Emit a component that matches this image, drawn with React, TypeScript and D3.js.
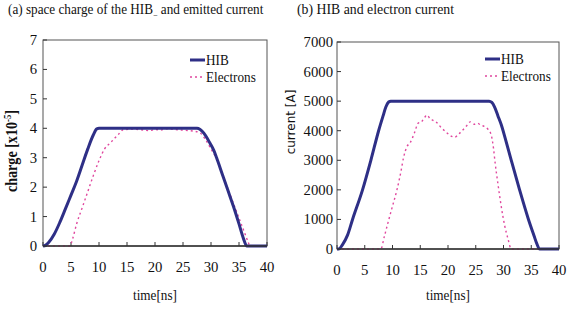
import * as d3 from "d3";

// panel (a): space charge [x10^-5]
const hibChargeT = [0, 0.5, 1, 2, 3, 4, 5, 6, 7, 8, 9, 9.6, 10, 27.5, 28, 28.5, 29, 29.8, 30.5, 31, 32, 33, 34, 35, 35.8, 36.4, 40];
const hibChargeV = [0, 0.03, 0.12, 0.4, 0.8, 1.26, 1.73, 2.2, 2.75, 3.3, 3.78, 3.98, 4.0, 4.0, 3.97, 3.88, 3.76, 3.5, 3.25, 3.0, 2.45, 1.9, 1.35, 0.75, 0.25, 0, 0];
const eChargeT = [0, 4.8, 5.3, 6, 7, 8, 9, 10, 11, 12, 12.5, 13.5, 14.3, 16, 17.5, 19, 20, 21, 22, 24, 26, 27, 28, 29, 30, 31, 32, 33, 34, 35, 36, 36.6, 37, 40];
const eChargeV = [0, 0, 0.25, 0.75, 1.3, 1.85, 2.4, 2.9, 3.3, 3.5, 3.6, 3.8, 3.95, 3.97, 3.95, 3.92, 3.96, 3.94, 3.98, 3.95, 3.92, 3.9, 3.85, 3.62, 3.3, 2.95, 2.45, 1.95, 1.45, 0.95, 0.45, 0.15, 0, 0];

// panel (b): current [A]
const hibCurT = [0, 0.3, 1, 1.9, 2.8, 4.6, 6.1, 7.5, 8.3, 8.8, 9.3, 9.7, 27.4, 27.9, 28.4, 29, 29.6, 30.3, 31.4, 32.9, 34.5, 35.5, 36, 36.5, 40];
const hibCurV = [0, 0, 150, 470, 1000, 2000, 3000, 4000, 4500, 4800, 4970, 5000, 5000, 4960, 4800, 4500, 4200, 3750, 3000, 2000, 1000, 450, 180, 0, 0];
const eCurT = [0, 7.9, 8.5, 9.2, 10, 10.8, 11.5, 12, 12.6, 13.2, 14, 14.6, 15.2, 15.8, 16.2, 16.8, 17.3, 18, 18.8, 19.5, 20.3, 21.2, 22, 22.8, 23.5, 24, 24.7, 25.3, 26, 26.5, 27.2, 27.8, 28.2, 28.5, 29, 29.6, 30.2, 30.8, 31.4, 40];
const eCurV = [0, 0, 400, 900, 1450, 2000, 2600, 3100, 3460, 3600, 3950, 4250, 4300, 4450, 4530, 4400, 4350, 4270, 4100, 3980, 3850, 3780, 3900, 4050, 4200, 4300, 4220, 4250, 4180, 4150, 4050, 3850, 3400, 2900, 2200, 1430, 800, 350, 0, 0];

const xTicks = [0, 5, 10, 15, 20, 25, 30, 35, 40];
const chargeTicks = [0, 1, 2, 3, 4, 5, 6, 7];
const currentTicks = [0, 1000, 2000, 3000, 4000, 5000, 6000, 7000];
const seriesNames = ["HIB", "Electrons"];

const HIB_COLOR = "#2e2f86";
const E_COLOR = "#e0479e";
const FONT = "Liberation Serif, Times New Roman, serif";

type Pt = [number, number];
const zip = (a: number[], b: number[]): Pt[] => a.map((t, i) => [t, b[i]]);

function T(props: { x: number; y: number; size?: number; sx?: number; anchor?: string; weight?: string; rotate?: number; children: any; family?: string }) {
  const { x, y, size = 15, sx = 0.88, anchor = "start", weight = "normal", rotate = 0, family = FONT } = props;
  return (
    <text
      transform={`translate(${x},${y}) rotate(${rotate}) scale(${sx},1)`}
      fontFamily={family}
      fontSize={size}
      fontWeight={weight}
      textAnchor={anchor}
      fill="#111"
    >
      {props.children}
    </text>
  );
}

function Panel(props: {
  left: number; right: number; top: number; bottom: number;
  yMax: number; yTicks: number[]; hib: Pt[]; el: Pt[];
  tickLabelRight: number; legendX: number; legendY: number;
}) {
  const { left, right, top, bottom, yMax, yTicks, hib, el, tickLabelRight, legendX, legendY } = props;
  const x = d3.scaleLinear().domain([0, 40]).range([left, right]);
  const y = d3.scaleLinear().domain([0, yMax]).range([bottom, top]);
  const line = d3.line<Pt>().x((d) => x(d[0])).y((d) => y(d[1])).curve(d3.curveMonotoneX);
  return (
    <g>
      <rect x={left} y={top} width={right - left} height={bottom - top} fill="none" stroke="#555" strokeWidth={1} />
      {xTicks.map((t) => (
        <g key={"x" + t}>
          <line x1={x(t)} x2={x(t)} y1={bottom} y2={bottom - 4} stroke="#333" />
          <T x={x(t)} y={bottom + 26} size={15.5} sx={0.95} anchor="middle">{t}</T>
        </g>
      ))}
      {yTicks.map((t) => (
        <g key={"y" + t}>
          <line x1={left} x2={left + 4} y1={y(t)} y2={y(t)} stroke="#333" />
          <T x={tickLabelRight} y={y(t) + 5} size={15.5} sx={0.95} anchor="end">{t}</T>
        </g>
      ))}
      <path d={line(el) || ""} fill="none" stroke={E_COLOR} strokeWidth={1.4} strokeDasharray="2,3" />
      <path d={line(hib) || ""} fill="none" stroke={HIB_COLOR} strokeWidth={3} />
      <line x1={left} x2={right} y1={bottom} y2={bottom} stroke="#333" strokeWidth={1.5} />
      <line x1={legendX} x2={legendX + 15} y1={legendY} y2={legendY} stroke={HIB_COLOR} strokeWidth={3} />
      <T x={legendX + 16} y={legendY + 5}>{seriesNames[0]}</T>
      <line x1={legendX} x2={legendX + 15} y1={legendY + 17} y2={legendY + 17} stroke={E_COLOR} strokeWidth={1.4} strokeDasharray="2,3" />
      <T x={legendX + 16} y={legendY + 22}>{seriesNames[1]}</T>
      <T x={(left + right) / 2} y={300} anchor="middle">time[ns]</T>
    </g>
  );
}

export default function App() {
  return (
    <div style={{ position: "absolute", left: 0, top: 0 }}>
      <svg width={569} height={311} style={{ display: "block", background: "#fff" }}>
        <T x={8} y={14} size={15} sx={0.88}>
          (a) space charge of the HIB<tspan fontSize={9} dy={4}>−</tspan>
          <tspan dy={-4}> and emitted current</tspan>
        </T>
        <T x={297} y={14} size={15} sx={0.92}>(b) HIB and electron current</T>

        <Panel left={43} right={267} top={40} bottom={246} yMax={7} yTicks={chargeTicks}
          hib={zip(hibChargeT, hibChargeV)} el={zip(eChargeT, eChargeV)}
          tickLabelRight={37} legendX={190} legendY={60} />
        <Panel left={337} right={559} top={42} bottom={249} yMax={7000} yTicks={currentTicks}
          hib={zip(hibCurT, hibCurV)} el={zip(eCurT, eCurV)}
          tickLabelRight={333} legendX={485} legendY={59} />

        <T x={17} y={151} size={16} anchor="middle" rotate={-90} weight="bold">
          charge [x10<tspan fontSize={10} dy={-6}>-5</tspan><tspan dy={6}>]</tspan>
        </T>
        <T x={295} y={122} anchor="middle" rotate={-90} size={12} sx={1} family="DejaVu Sans, sans-serif">current [A]</T>
      </svg>
    </div>
  );
}
